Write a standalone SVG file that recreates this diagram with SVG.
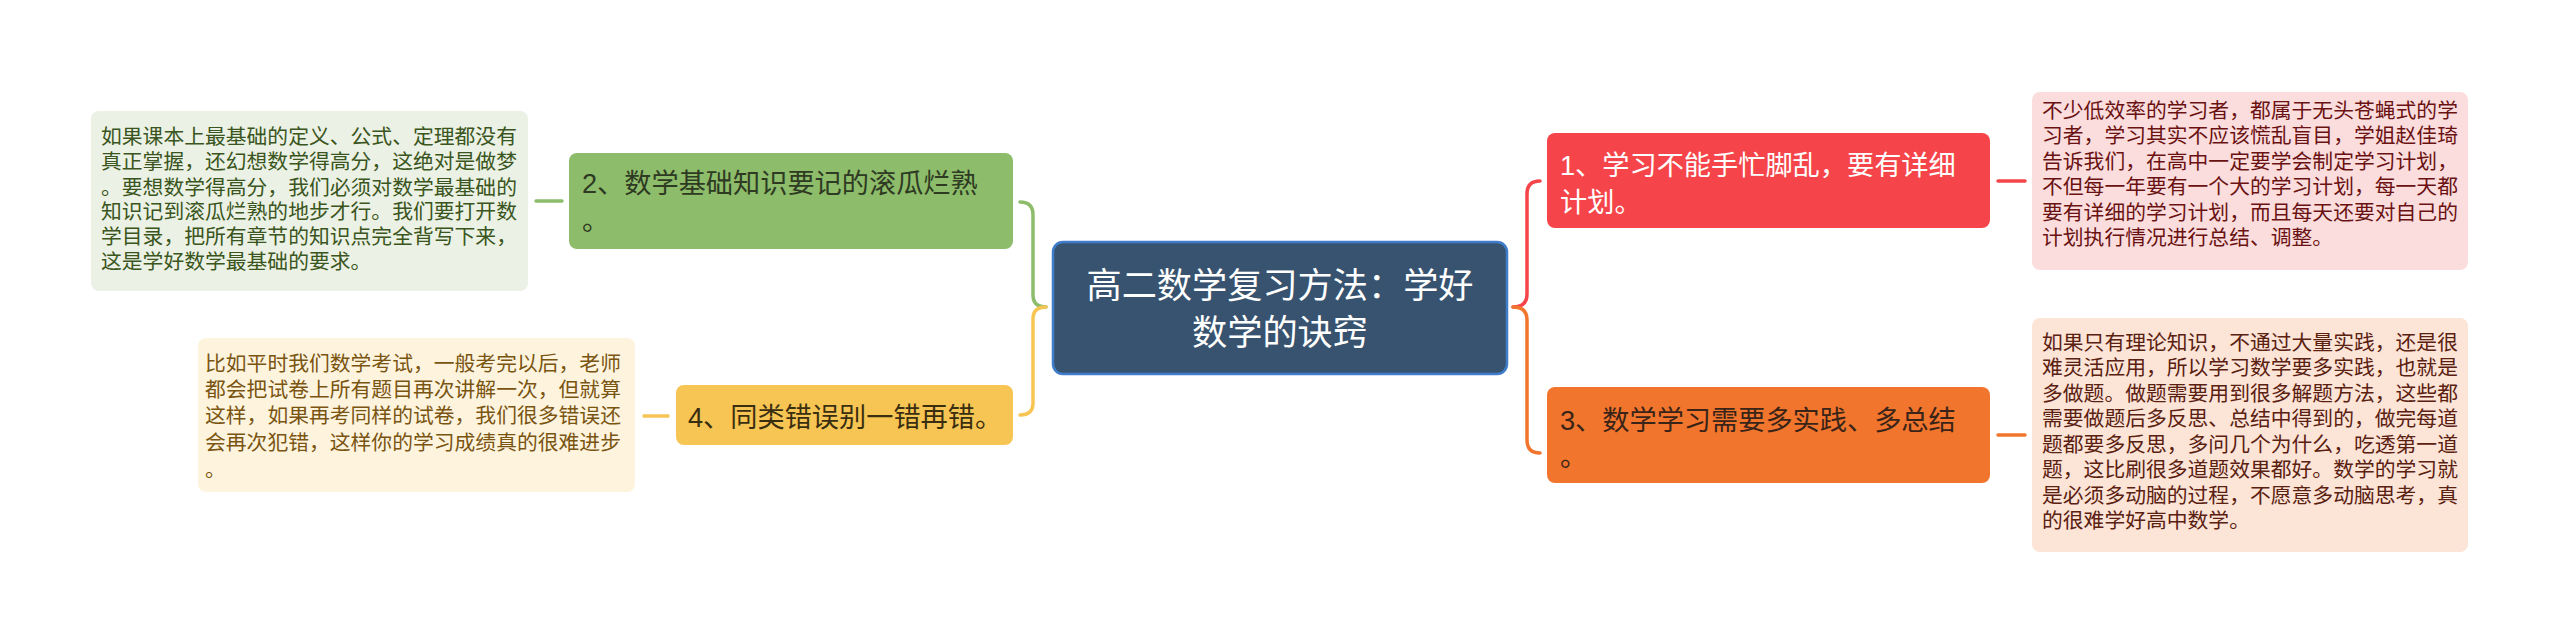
<svg xmlns="http://www.w3.org/2000/svg" width="2560" height="643" viewBox="0 0 2560 643">
<style>
text{font-family:"Liberation Sans","Noto Sans CJK SC",sans-serif}
.leaf{font-size:20.8px}
.main{font-size:27.2px}
.root{font-size:35.2px;fill:#ffffff}
.conn{fill:none;stroke-width:3.5;stroke-linecap:round}
</style>
<rect width="2560" height="643" fill="#ffffff"/>
<g id="connectors">
<line class="conn" x1="536" y1="201" x2="562" y2="201" stroke="#8DBC6B"/>
<line class="conn" x1="644" y1="416" x2="668" y2="416" stroke="#F7C553"/>
<line class="conn" x1="1998" y1="181" x2="2025" y2="181" stroke="#F5454A"/>
<line class="conn" x1="1998" y1="435" x2="2025" y2="435" stroke="#F2752D"/>
<path class="conn" d="M1020,202 Q1033,202 1033,215 L1033,295 Q1033,307 1046,307" stroke="#8DBC6B"/>
<path class="conn" d="M1046,307 Q1033,307 1033,319 L1033,403 Q1033,415 1020,415" stroke="#F7C553"/>
<path class="conn" d="M1513,307 Q1527,307 1527,294 L1527,194 Q1527,181 1540,181" stroke="#F5454A"/>
<path class="conn" d="M1513,307 Q1527,307 1527,320 L1527,440 Q1527,453 1540,453" stroke="#F2752D"/>
</g>
<g id="root">
<rect x="1053" y="242" width="454" height="132" rx="10" fill="#37536F" stroke="#3F7DCB" stroke-width="2.5"/>
<text class="root" x="1280" y="298" text-anchor="middle">高二数学复习方法：学好</text>
<text class="root" x="1280" y="345" text-anchor="middle">数学的诀窍</text>
</g>
<g id="n2">
<rect x="569" y="153" width="444" height="96" rx="8" fill="#8DBC6B"/>
<text class="main" fill="#2E3A22" x="582" y="193">2、数学基础知识要记的滚瓜烂熟</text>
<text class="main" fill="#2E3A22" x="582" y="230">。</text>
</g>
<g id="n4">
<rect x="676" y="385" width="337" height="60" rx="8" fill="#F7C553"/>
<text class="main" fill="#3A2E10" x="688" y="427">4、同类错误别一错再错。</text>
</g>
<g id="n1">
<rect x="1547" y="133" width="443" height="95" rx="8" fill="#F5454A"/>
<text class="main" fill="#ffffff" x="1560" y="175">1、学习不能手忙脚乱，要有详细</text>
<text class="main" fill="#ffffff" x="1560" y="212">计划。</text>
</g>
<g id="n3">
<rect x="1547" y="387" width="443" height="96" rx="8" fill="#F2752D"/>
<text class="main" fill="#3A2418" x="1560" y="430">3、数学学习需要多实践、多总结</text>
<text class="main" fill="#3A2418" x="1560" y="466">。</text>
</g>
<g id="leaf2">
<rect x="91" y="111" width="437" height="180" rx="8" fill="#EBF1E4"/>
<g class="leaf" fill="#3A5520">
<text x="101" y="144">如果课本上最基础的定义、公式、定理都没有</text>
<text x="101" y="169">真正掌握，还幻想数学得高分，这绝对是做梦</text>
<text x="101" y="194.5">。要想数学得高分，我们必须对数学最基础的</text>
<text x="101" y="219">知识记到滚瓜烂熟的地步才行。我们要打开数</text>
<text x="101" y="244">学目录，把所有章节的知识点完全背写下来，</text>
<text x="101" y="269">这是学好数学最基础的要求。</text>
</g>
</g>
<g id="leaf4">
<rect x="198" y="338" width="437" height="154" rx="8" fill="#FEF4DE"/>
<g class="leaf" fill="#7A5512">
<text x="205" y="370.5">比如平时我们数学考试，一般考完以后，老师</text>
<text x="205" y="397">都会把试卷上所有题目再次讲解一次，但就算</text>
<text x="205" y="423">这样，如果再考同样的试卷，我们很多错误还</text>
<text x="205" y="450">会再次犯错，这样你的学习成绩真的很难进步</text>
<text x="205" y="477">。</text>
</g>
</g>
<g id="leaf1">
<rect x="2032" y="92" width="436" height="178" rx="8" fill="#FCDDDE"/>
<g class="leaf" fill="#6A1212">
<text x="2042" y="118">不少低效率的学习者，都属于无头苍蝇式的学</text>
<text x="2042" y="143">习者，学习其实不应该慌乱盲目，学姐赵佳琦</text>
<text x="2042" y="168.5">告诉我们，在高中一定要学会制定学习计划，</text>
<text x="2042" y="194">不但每一年要有一个大的学习计划，每一天都</text>
<text x="2042" y="219.5">要有详细的学习计划，而且每天还要对自己的</text>
<text x="2042" y="245">计划执行情况进行总结、调整。</text>
</g>
</g>
<g id="leaf3">
<rect x="2032" y="318" width="436" height="234" rx="8" fill="#FCE4D7"/>
<g class="leaf" fill="#5A2010">
<text x="2042" y="349.5">如果只有理论知识，不通过大量实践，还是很</text>
<text x="2042" y="375">难灵活应用，所以学习数学要多实践，也就是</text>
<text x="2042" y="400.5">多做题。做题需要用到很多解题方法，这些都</text>
<text x="2042" y="426">需要做题后多反思、总结中得到的，做完每道</text>
<text x="2042" y="451.5">题都要多反思，多问几个为什么，吃透第一道</text>
<text x="2042" y="477">题，这比刷很多道题效果都好。数学的学习就</text>
<text x="2042" y="502.5">是必须多动脑的过程，不愿意多动脑思考，真</text>
<text x="2042" y="528">的很难学好高中数学。</text>
</g>
</g>
</svg>
